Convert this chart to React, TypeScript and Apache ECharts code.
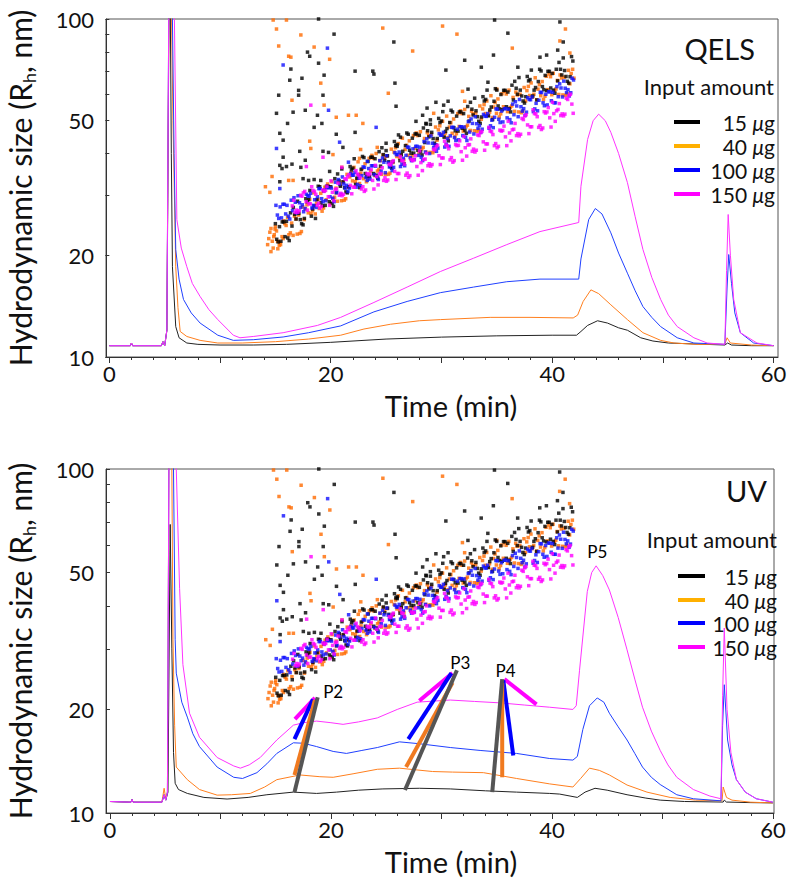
import React, { useEffect, useRef } from "react";
import * as echarts from "echarts";

// ---------- axes ----------
const TIME_LABELS = [0, 20, 40, 60];
const TIME_MAJOR_TICKS = [0, 10, 20, 30, 40, 50, 60];
const TIME_MINOR_TICKS = [0, 2, 4, 6, 8, 10, 12, 14, 16, 18, 20, 22, 24, 26, 28, 30, 32, 34, 36, 38, 40, 42, 44, 46, 48, 50, 52, 54, 56, 58, 60];
const SIZE_LABELS = [10, 20, 50, 100];
const SIZE_TICKS = [10, 20, 30, 40, 50, 60, 70, 80, 90, 100];
const AMOUNTS = ["15", "40", "100", "150"];
const PANEL_TITLES = ["QELS", "UV"];

// ---------- QELS (top) traces [time, Rh] ----------
const qels15 = [[0,10.8],[1.9,10.8],[2.0,11.0],[2.1,10.8],[4.7,10.8],[4.85,11.1],[5.0,10.8],[5.2,12],[5.45,200],[5.6,40],[5.7,18.5],[6.0,12.3],[6.3,11.4],[7,11.0],[8,10.9],[10,10.85],[13,10.85],[16,10.9],[20,11.05],[25,11.3],[30,11.45],[35,11.55],[40,11.6],[42.2,11.6],[42.6,11.9],[43.2,12.4],[44.1,12.8],[45,12.6],[46,12.2],[46.8,12.0],[48,11.4],[49.1,11.15],[50.5,11.0],[52.8,10.93],[55.6,10.85],[55.85,11.0],[56.2,10.85],[58,10.8],[60,10.8]];
const qels40 = [[0,10.8],[1.9,10.8],[2.0,11.0],[2.1,10.8],[4.7,10.8],[4.85,11.1],[5.0,10.8],[5.2,12],[5.45,250],[5.75,50],[6.0,18.5],[6.2,14],[6.4,11.9],[7.0,11.5],[8.2,11.2],[9.8,11.0],[12,11.0],[15,11.1],[18,11.3],[20.9,11.6],[23,12.1],[25.4,12.5],[28,12.8],[29.9,12.9],[34.4,13.1],[38,13.1],[41.9,13.05],[42.3,13.3],[42.8,14.6],[43.5,15.8],[44.2,15.4],[45.3,14.27],[46.8,12.9],[48.2,11.8],[49.8,11.2],[51,11.0],[53,10.9],[55.6,10.9],[55.8,11.4],[56.1,11.0],[58,10.85],[60,10.8]];
const qels100 = [[0,10.8],[1.9,10.8],[2.0,11.0],[2.1,10.8],[4.7,10.8],[4.85,11.1],[5.0,10.8],[5.2,12],[5.45,300],[5.7,100],[5.85,40],[6.0,20.8],[6.3,17],[6.7,14.8],[7.4,13.5],[8.2,12.6],[9.8,11.6],[11.2,11.2],[13,11.25],[15.7,11.46],[18,11.8],[20.9,12.36],[23.9,13.6],[26.9,14.6],[29.9,15.5],[32.9,16.1],[35.9,16.7],[38.9,17.0],[42.4,17.0],[42.6,19.5],[43.3,25.5],[43.9,27.5],[44.5,26.5],[45.3,23.3],[46,20.3],[46.8,17.7],[47.5,15.7],[48.2,14.1],[49,13.1],[49.8,12.3],[51.3,11.4],[52.8,11.0],[55.6,10.9],[55.8,16],[55.95,20.1],[56.2,16.5],[56.5,13.5],[57,11.8],[58.2,11.0],[60,10.8]];
const qels150 = [[0,10.8],[1.9,10.8],[2.0,11.0],[2.1,10.8],[4.7,10.8],[4.85,11.1],[5.0,10.8],[5.2,12],[5.45,300],[5.85,120],[6.1,25.5],[6.5,21],[7.0,18.5],[7.5,16.5],[8.2,15.1],[9,13.8],[9.8,12.9],[11.2,11.6],[11.8,11.4],[13,11.5],[15.7,11.8],[18.8,12.4],[20.9,13.1],[23.9,14.5],[26.9,16.1],[29.9,17.9],[32.9,19.6],[35.9,21.5],[38.9,23.5],[42.4,25.0],[42.6,32],[43.2,44],[43.7,50],[44.2,52.3],[44.8,50],[45.3,46.2],[46,40],[46.8,32.8],[47.5,26],[48.2,20.8],[49,17.2],[49.8,14.8],[50.5,13.3],[51.3,12.3],[52.8,11.4],[54,11.0],[55.6,10.9],[55.75,18],[55.9,26.4],[56.1,20],[56.4,14.8],[57,11.8],[58.5,11.0],[60,10.8]];

// ---------- UV (bottom) traces ----------
const uv15 = [[0,10.8],[1.9,10.75],[2.0,10.95],[2.1,10.75],[4.7,10.75],[4.9,11.3],[5.05,10.9],[5.25,11.5],[5.45,69],[5.6,30],[5.75,15],[5.9,12.2],[6.2,11.7],[7,11.4],[8.5,11.1],[10.6,10.98],[12.5,11.1],[14.2,11.3],[16.6,11.5],[18.7,11.4],[20.5,11.5],[22.5,11.65],[24.7,11.75],[28,11.8],[30.8,11.75],[34,11.6],[36.8,11.5],[39.8,11.4],[40.7,11.35],[42.3,11.1],[43,11.5],[43.9,11.8],[45,11.65],[46.8,11.3],[48.5,11.05],[49.8,10.9],[52,10.8],[55.5,10.76],[55.6,10.9],[55.8,10.76],[58,10.72],[60,10.7]];
const uv40 = [[0,10.8],[1.9,10.75],[2.0,10.95],[2.1,10.75],[4.7,10.75],[4.9,11.8],[5.05,11.0],[5.2,11.5],[5.4,300],[5.6,100],[5.7,32],[5.85,18],[6.0,13.6],[7.0,12.5],[8.1,11.7],[9.7,11.27],[11,11.3],[12.7,11.4],[14,11.9],[15.1,12.5],[17.2,12.9],[19,12.75],[20.2,12.7],[22,13.0],[24.2,13.4],[26.2,13.5],[29.2,13.2],[31,13.15],[33.8,13.1],[36.8,12.6],[39.8,12.15],[41.9,11.9],[42.6,12.6],[43.4,13.5],[44.3,13.3],[45.2,12.9],[46.8,12.06],[48.6,11.5],[50.7,11.1],[53,10.9],[55.4,10.85],[55.5,11.9],[55.8,11.1],[56.3,10.9],[58,10.75],[60,10.7]];
const uv100 = [[0,10.8],[1.9,10.75],[2.0,10.95],[2.1,10.75],[4.7,10.75],[4.9,11.3],[5.05,10.9],[5.2,11.5],[5.4,300],[5.75,100],[5.9,32],[6.0,25.5],[6.5,21],[7,19],[7.5,17],[8.1,15.6],[9.7,13.6],[11.2,12.7],[12,12.6],[13.3,13.1],[14.2,13.9],[15.1,14.9],[16.6,16.0],[17.5,15.95],[18.7,15.6],[20.2,15.1],[21.4,14.9],[22.8,15.2],[24.2,15.5],[26.2,16.1],[28,15.9],[30.8,15.5],[33.5,15.2],[36.8,14.9],[39.8,14.4],[41.9,14.25],[42.3,14.6],[42.8,17.5],[43.4,20.5],[44.1,21.6],[44.7,21.0],[45.2,19.5],[46,17.8],[46.8,16.3],[47.5,14.9],[48.2,13.6],[49,12.7],[49.8,12.1],[51.3,11.3],[52.8,11.0],[55.3,10.85],[55.45,18],[55.6,23.6],[55.9,16.3],[56.3,13.8],[56.7,12.5],[57.5,11.5],[58.5,11.0],[60,10.75]];
const uv150 = [[0,10.8],[1.9,10.75],[2.0,10.95],[2.1,10.75],[4.7,10.75],[4.9,11.3],[5.05,10.9],[5.2,11.5],[5.4,300],[5.9,200],[6.0,100],[6.3,45],[6.6,27],[7.2,19.5],[8.1,16.6],[9.7,14.5],[11.2,13.7],[11.8,13.5],[12.6,13.8],[13.6,14.5],[15.1,16.3],[16.6,18.0],[17.5,18.3],[18.7,18.5],[20,18.3],[21.1,18.1],[22.5,18.4],[24.2,18.9],[26,20],[27.8,21],[30.8,21.3],[33,21.1],[35.3,20.9],[37.5,20.6],[39.8,20.3],[41.9,20.0],[42.2,20.5],[42.5,26],[43.2,44],[43.6,50],[44.0,52.3],[44.6,49],[45.2,44.5],[46,37],[46.8,29.8],[47.5,24.5],[48.2,20.3],[49,17.3],[49.8,15.2],[50.5,13.8],[51.3,12.7],[52.8,11.7],[54.3,11.2],[55.3,11.0],[55.45,22],[55.6,34.5],[55.85,20],[56.2,15],[56.7,12.5],[57.5,11.5],[58.5,11.0],[60,10.75]];

// ---------- MALS scatter (same in both panels) ----------
const dots15 = [[15.0,24.8],[15.25,21.9],[15.5,22.0],[15.75,25.1],[16.0,25.2],[16.25,22.1],[16.5,24.4],[16.75,26.4],[17.0,28.9],[17.25,25.5],[17.5,24.6],[17.75,29.4],[18.0,29.2],[18.25,26.1],[18.5,28.0],[18.75,29.2],[19.0,31.9],[19.25,28.0],[19.5,28.1],[19.75,32.0],[20.0,31.9],[20.25,27.9],[20.5,30.6],[20.75,33.2],[21.0,36.0],[21.25,31.7],[21.5,30.6],[21.75,36.6],[22.0,36.2],[22.25,32.4],[22.5,34.5],[22.75,35.9],[23.0,38.9],[23.25,34.2],[23.5,34.2],[23.75,39.0],[24.0,38.6],[24.25,33.8],[24.5,36.7],[24.75,39.7],[25.0,42.9],[25.25,37.8],[25.5,36.2],[25.75,43.4],[26.0,42.5],[26.25,38.1],[26.5,40.6],[26.75,42.2],[27.0,45.6],[27.25,40.1],[27.5,40.1],[27.75,45.7],[28.0,45.3],[28.25,39.6],[28.5,43.1],[28.75,46.7],[29.0,50.3],[29.25,44.3],[29.5,42.4],[29.75,50.8],[30.0,49.9],[30.25,44.7],[30.5,47.4],[30.75,49.4],[31.0,53.1],[31.25,46.7],[31.5,46.6],[31.75,53.1],[32.0,52.5],[32.25,45.9],[32.5,49.9],[32.75,54.1],[33.0,58.3],[33.25,51.4],[33.5,49.1],[33.75,58.9],[34.0,57.8],[34.25,51.7],[34.5,54.9],[34.75,57.1],[35.0,61.6],[35.25,54.2],[35.5,53.9],[35.75,61.5],[36.0,60.8],[36.25,53.1],[36.5,57.6],[36.75,62.4],[37.0,67.1],[37.25,59.2],[37.5,56.4],[37.75,67.6],[38.0,66.2],[38.25,59.2],[38.5,62.7],[38.75,65.3],[39.0,70.2],[39.25,61.8],[39.5,61.4],[39.75,70.0],[40.0,69.0],[40.25,60.3],[40.5,65.6],[40.75,71.0],[41.0,76.7],[41.25,67.6],[41.5,64.6],[41.75,77.4],
  [18.9,100],[20.3,90.2],[25.7,85.5],[17.9,79.8],[18.1,77.6],[18.9,74.0],[16.4,71.1],[22.2,70.1],[23.8,70.1],[23.9,68.7],[17.4,66.8],[19.4,68.2],[16.3,65.9],[25.8,64.6],[17.1,61.5],[17.1,59.5],[15.3,59.5],[19.3,59.5],[17.7,53.7],[25.9,55.2],[15.1,52.6],[16.6,53.0],[18.8,51.9],[18.5,47.8],[19.2,49.1],[16.1,49.1],[22.2,46.2],[15.4,45.9],[15.7,43.8],[20.5,45.6],[17.2,40.6],[15.7,39.0],[19.3,40.6],[19.8,40.3],[21.1,41.7],[17.7,38.2],[15.4,36.9],[16.0,36.6],[16.5,37.2],[17.3,36.4],[15.6,36.1],[19.9,35.4],[15.4,33.0],[17.5,33.7],[18.0,33.3],[18.5,33.5],[19.1,33.3],[27.7,49.8],[28.3,51.9],[28.6,49.1],[25.0,40.8],[26.0,42.0],[26.3,44.7],
  [34.8,99.3],[40.7,98.0],[36.0,90.8],[41.0,85.5],[40.5,80.9],[34.7,78.2],[38.9,77.1],[39.5,78.2],[32.1,75.5],[33.6,72.0],[36.9,72.0],[30.4,70.6],[34.2,65.0],[32.4,62.0],[30.6,57.1],[29.5,56.7],[30.2,55.6],[28.7,54.5],[29.0,48.8]];
const dots15More = [[15.12,22.3],[15.37,24.3],[15.62,25.1],[15.87,22.7],[16.12,22.5],[16.37,26.7],[16.62,27.7],[16.87,25.6],[17.12,26.6],[17.37,24.8],[17.62,25.7],[17.87,28.8],[18.12,31.1],[18.37,27.4],[18.62,25.7],[18.87,32.0],[19.12,28.6],[19.37,31.0],[19.62,32.0],[19.87,28.8],[20.12,28.5],[20.37,33.7],[20.62,34.8],[20.87,32.0],[21.12,33.0],[21.37,30.8],[21.62,31.9],[21.87,35.8],[22.12,38.6],[22.37,33.8],[22.62,31.7],[22.87,39.2],[23.12,34.9],[23.37,37.9],[23.62,39.0],[23.87,34.9],[24.12,34.5],[24.37,40.5],[24.62,41.6],[24.87,38.2],[25.12,39.4],[25.37,36.6],[25.62,37.8],[25.87,42.2],[26.12,45.4],[26.37,39.7],[26.62,37.3],[26.87,46.0],[27.12,40.9],[27.37,44.4],[27.62,45.7],[27.87,40.9],[28.12,40.5],[28.37,47.6],[28.62,48.9],[28.87,44.8],[29.12,46.2],[29.37,42.9],[29.62,44.3],[29.87,49.4],[30.12,53.2],[30.37,46.5],[30.62,43.6],[30.87,53.7],[31.12,47.7],[31.37,51.6],[31.62,53.1],[31.87,47.5],[32.12,46.9],[32.37,55.1],[32.62,56.7],[32.87,52.0],[33.12,53.5],[33.37,49.8],[33.62,51.3],[33.87,57.2],[34.12,61.6],[34.37,53.8],[34.62,50.4],[34.87,62.2],[35.12,55.3],[35.37,59.8],[35.62,61.5],[35.87,55.0],[36.12,54.3],[36.37,63.7],[36.62,65.4],[36.87,59.9],[37.12,61.6],[37.37,57.2],[37.62,58.9],[37.87,65.6],[38.12,70.6],[38.37,61.6],[38.62,57.6],[38.87,71.0],[39.12,63.1],[39.37,68.1],[39.62,70.0],[39.87,62.5],[40.12,61.6],[40.37,71.0],[40.62,74.4],[40.87,68.3],[41.12,70.4],[41.37,65.4],[41.62,67.5],[41.87,75.1]];
const dots40 = [[14.6,20.5],[14.85,22.7],[15.1,23.6],[15.35,21.4],[15.6,22.7],[15.85,24.8],[16.1,25.9],[16.35,23.3],[16.6,22.9],[16.85,25.6],[17.1,26.3],[17.35,23.5],[17.6,25.5],[17.85,28.2],[18.1,29.3],[18.35,27.1],[18.6,26.5],[18.85,29.3],[19.1,30.5],[19.35,27.6],[19.6,29.2],[19.85,31.9],[20.1,33.0],[20.35,29.7],[20.6,28.9],[20.85,32.3],[21.1,32.9],[21.35,29.4],[21.6,31.8],[21.85,35.1],[22.1,36.4],[22.35,33.7],[22.6,32.6],[22.85,36.1],[23.1,37.3],[23.35,33.7],[23.6,35.5],[23.85,38.7],[24.1,40.0],[24.35,35.9],[24.6,34.7],[24.85,38.8],[25.1,39.3],[25.35,35.0],[25.6,37.6],[25.85,41.6],[26.1,42.8],[26.35,39.6],[26.6,38.3],[26.85,42.3],[27.1,43.6],[27.35,39.4],[27.6,41.4],[27.85,45.2],[28.1,46.4],[28.35,41.7],[28.6,40.4],[28.85,45.2],[29.1,45.6],[29.35,40.7],[29.6,43.8],[29.85,48.3],[30.1,49.8],[30.35,46.0],[30.6,44.6],[30.85,49.3],[31.1,50.6],[31.35,45.8],[31.6,48.1],[31.85,52.5],[32.1,54.0],[32.35,48.5],[32.6,46.8],[32.85,52.4],[33.1,52.7],[33.35,47.0],[33.6,50.5],[33.85,55.8],[34.1,57.2],[34.35,53.0],[34.6,51.1],[34.85,56.6],[35.1,58.0],[35.35,52.4],[35.6,55.0],[35.85,60.0],[36.1,61.6],[36.35,55.3],[36.6,53.3],[36.85,59.6],[37.1,59.9],[37.35,53.4],[37.6,57.2],[37.85,63.2],[38.1,64.7],[38.35,59.9],[38.6,57.7],[38.85,63.9],[39.1,65.3],[39.35,59.1],[39.6,61.8],[39.85,67.5],[40.1,69.1],[40.35,62.1],[40.6,59.8],[40.85,66.9],[41.1,67.3],[41.35,60.1],[41.6,64.3],[41.85,71.0],
  [14.3,21.5],[14.5,23.4],[14.8,21.0],[15.0,24.3],[15.2,22.0],[14.4,22.4],[14.9,23.0],[15.4,21.8],[14.6,24.0],[15.7,22.4],
  [14.8,99.3],[16.0,99.3],[15.1,93.4],[17.3,89.7],[15.3,83.2],[18.5,82.6],[16.2,77.6],[16.4,77.1],[19.9,76.0],[24.7,94.0],[27.4,80.4],[19.1,64.6],[25.2,60.3],[16.5,57.5],[19.4,55.6],[21.6,51.9],[22.3,51.9],[20.5,51.2],[22.9,49.1],[18.1,43.5],[18.2,41.4],[22.7,41.1],[20.2,39.7],[24.2,41.7],[14.7,34.2],[14.1,31.9],[16.2,33.3],[16.6,33.3],[14.5,30.7],[21.0,36.4],[22.6,38.7],
  [30.1,95.3],[31.4,90.2],[41.2,93.4],[36.4,82.0],[40.7,86.1],[41.6,79.3],[31.9,61.1],[35.0,62.0],[32.1,57.1],[29.3,52.6]];
const dots40More = [[14.72,22.0],[14.97,23.9],[15.22,20.9],[15.47,21.5],[15.72,25.3],[15.97,24.5],[16.22,23.0],[16.47,24.9],[16.72,26.1],[16.97,23.1],[17.22,23.2],[17.47,27.8],[17.72,27.4],[17.97,26.7],[18.22,26.6],[18.47,30.6],[18.72,28.5],[18.97,27.5],[19.22,27.0],[19.47,31.8],[19.72,32.5],[19.97,28.4],[20.22,29.4],[20.47,31.6],[20.72,33.0],[20.97,29.0],[21.22,29.1],[21.47,34.7],[21.72,34.1],[21.97,33.2],[22.22,33.0],[22.47,37.8],[22.72,35.0],[22.97,33.7],[23.22,33.0],[23.47,38.7],[23.72,39.5],[23.97,34.4],[24.22,35.5],[24.47,38.1],[24.72,39.6],[24.97,34.7],[25.22,34.7],[25.47,41.2],[25.72,40.4],[25.97,39.2],[26.22,38.8],[26.47,44.4],[26.72,41.1],[26.97,39.5],[27.22,38.6],[27.47,45.2],[27.72,46.0],[27.97,40.0],[28.22,41.3],[28.47,44.3],[28.72,46.1],[28.97,40.3],[29.22,40.2],[29.47,47.9],[29.72,47.0],[29.97,45.6],[30.22,45.1],[30.47,51.6],[30.72,47.9],[30.97,45.9],[31.22,44.8],[31.47,52.5],[31.72,53.5],[31.97,46.6],[32.22,48.0],[32.47,51.5],[32.72,53.4],[32.97,46.7],[33.22,46.5],[33.47,55.3],[33.72,54.2],[33.97,52.5],[34.22,51.9],[34.47,59.3],[34.72,54.9],[34.97,52.6],[35.22,51.3],[35.47,60.1],[35.72,61.1],[35.97,53.2],[36.22,54.7],[36.47,58.6],[36.72,60.8],[36.97,53.1],[37.22,52.8],[37.47,62.7],[37.72,61.4],[37.97,59.4],[38.22,58.7],[38.47,67.0],[38.72,62.0],[38.97,59.3],[39.22,57.8],[39.47,67.7],[39.72,68.8],[39.97,59.7],[40.22,61.4],[40.47,65.8],[40.72,68.3],[40.97,59.6],[41.22,59.4],[41.47,70.5],[41.72,69.0],[41.97,66.8]];
const dots100 = [[15.05,28.1],[15.3,25.7],[15.55,25.8],[15.8,28.3],[16.05,28.1],[16.3,25.6],[16.55,27.1],[16.8,28.7],[17.05,30.0],[17.3,27.7],[17.55,26.9],[17.8,30.3],[18.05,29.9],[18.3,27.6],[18.55,29.2],[18.8,29.8],[19.05,31.5],[19.3,28.8],[19.55,29.0],[19.8,31.7],[20.05,31.6],[20.3,28.8],[20.55,30.7],[20.8,32.5],[21.05,34.1],[21.3,31.6],[21.55,30.9],[21.8,34.9],[22.05,34.5],[22.3,31.8],[22.55,33.8],[22.8,34.4],[23.05,36.4],[23.3,33.3],[23.55,33.6],[23.8,36.8],[24.05,36.7],[24.3,33.5],[24.55,35.5],[24.8,37.7],[25.05,39.4],[25.3,36.5],[25.55,35.6],[25.8,40.2],[26.05,39.7],[26.3,36.6],[26.55,38.7],[26.8,39.5],[27.05,41.7],[27.3,38.1],[27.55,38.4],[27.8,42.0],[28.05,41.8],[28.3,38.1],[28.55,40.4],[28.8,43.0],[29.05,45.1],[29.3,41.7],[29.55,40.6],[29.8,45.8],[30.05,45.3],[30.3,41.8],[30.55,44.3],[30.8,45.1],[31.05,47.8],[31.3,43.7],[31.55,43.9],[31.8,48.0],[32.05,47.9],[32.3,43.7],[32.55,46.3],[32.8,49.1],[33.05,51.4],[33.3,47.5],[33.55,46.2],[33.8,52.2],[34.05,51.5],[34.3,47.5],[34.55,50.2],[34.8,51.2],[35.05,54.1],[35.3,49.4],[35.55,49.6],[35.8,54.3],[36.05,54.1],[36.3,49.3],[36.55,52.1],[36.8,55.3],[37.05,57.8],[37.3,53.4],[37.55,51.9],[37.8,58.5],[38.05,57.7],[38.3,53.2],[38.55,56.3],[38.8,57.5],[39.05,60.6],[39.3,55.4],[39.55,55.7],[39.8,60.9],[40.05,60.7],[40.3,56.5],[40.55,58.9],[40.8,62.5],[41.05,65.5],[41.3,60.6],[41.55,59.2],[41.8,66.8],
  [19.7,82.0],[15.7,73.1],[19.8,53.7],[24.1,47.8],[20.8,43.2],[15.1,41.4],[21.6,37.7],[23.3,37.9],[15.4,31.5]];
const dots100More = [[15.18,26.3],[15.43,27.8],[15.68,28.3],[15.93,26.5],[16.18,26.1],[16.43,29.1],[16.68,29.6],[16.93,26.7],[17.18,28.6],[17.43,28.2],[17.68,27.5],[17.93,30.0],[18.18,30.5],[18.43,28.1],[18.68,27.7],[18.93,31.5],[19.18,29.4],[19.43,31.2],[19.68,31.7],[19.93,29.8],[20.18,29.5],[20.43,32.9],[20.68,33.5],[20.93,30.3],[21.18,32.5],[21.43,32.2],[21.68,31.6],[21.93,34.5],[22.18,35.2],[22.43,32.4],[22.68,32.1],[22.93,36.5],[23.18,34.0],[23.43,36.1],[23.68,36.8],[23.93,34.6],[24.18,34.2],[24.43,38.1],[24.68,38.8],[24.93,35.1],[25.18,37.6],[25.43,37.2],[25.68,36.4],[25.93,39.7],[26.18,40.4],[26.43,37.2],[26.68,36.8],[26.93,41.8],[27.18,38.9],[27.43,41.3],[27.68,42.0],[27.93,39.5],[28.18,39.0],[28.43,43.4],[28.68,44.2],[28.93,40.0],[29.18,42.9],[29.43,42.4],[29.68,41.5],[29.93,45.3],[30.18,46.2],[30.43,42.6],[30.68,42.0],[30.93,47.8],[31.18,44.6],[31.43,47.2],[31.68,48.0],[31.93,45.2],[32.18,44.7],[32.43,49.7],[32.68,50.6],[32.93,45.7],[33.18,49.0],[33.43,48.4],[33.68,47.2],[33.93,51.6],[34.18,52.5],[34.43,48.3],[34.68,47.7],[34.93,54.2],[35.18,50.5],[35.43,53.4],[35.68,54.3],[35.93,51.0],[36.18,50.4],[36.43,56.0],[36.68,56.9],[36.93,51.4],[37.18,55.0],[37.43,54.3],[37.68,53.0],[37.93,57.8],[38.18,58.8],[38.43,54.2],[38.68,53.5],[38.93,60.7],[39.18,56.5],[39.43,59.9],[39.68,60.9],[39.93,57.3],[40.18,56.5],[40.43,63.1],[40.68,64.3],[40.93,58.8],[41.18,62.4],[41.43,61.8],[41.68,60.5],[41.93,66.0]];
const dots150 = [[16.65,29.1],[16.9,27.2],[17.15,27.1],[17.4,29.9],[17.65,30.9],[17.9,27.2],[18.15,28.4],[18.4,31.1],[18.65,30.3],[18.9,28.5],[19.15,27.9],[19.4,30.9],[19.65,32.0],[19.9,28.1],[20.15,30.7],[20.4,31.3],[20.65,32.7],[20.9,30.5],[21.15,30.3],[21.4,33.5],[21.65,34.6],[21.9,30.4],[22.15,31.8],[22.4,34.8],[22.65,33.9],[22.9,31.9],[23.15,31.2],[23.4,34.6],[23.65,35.8],[23.9,31.4],[24.15,34.2],[24.4,34.8],[24.65,36.3],[24.9,33.9],[25.15,33.4],[25.4,37.0],[25.65,38.1],[25.9,33.5],[26.15,34.9],[26.4,38.2],[26.65,37.2],[26.9,35.0],[27.15,34.4],[27.4,38.1],[27.65,39.4],[27.9,34.5],[28.15,37.6],[28.4,38.4],[28.65,40.0],[28.9,37.3],[29.15,37.1],[29.4,41.0],[29.65,42.3],[29.9,37.1],[30.15,38.8],[30.4,42.4],[30.65,41.3],[30.9,38.9],[31.15,38.1],[31.4,42.2],[31.65,43.6],[31.9,38.2],[32.15,41.6],[32.4,42.4],[32.65,44.2],[32.9,41.2],[33.15,40.9],[33.4,45.2],[33.65,46.5],[33.9,40.9],[34.15,42.7],[34.4,46.6],[34.65,45.5],[34.9,42.8],[35.15,42.0],[35.4,46.6],[35.65,48.2],[35.9,42.2],[36.15,46.0],[36.4,47.0],[36.65,49.1],[36.9,45.8],[37.15,45.6],[37.4,50.4],[37.65,52.1],[37.9,45.8],[38.15,48.0],[38.4,52.5],[38.65,51.4],[38.9,48.4],[39.15,47.6],[39.4,52.7],[39.65,54.7],[39.9,47.9],[40.15,52.5],[40.4,53.5],[40.65,56.2],[40.9,52.4],[41.15,52.3],[41.4,57.8],[41.65,59.9],[41.9,52.6],
  [18.2,55.6],[19.3,39.0],[17.8,36.6],[21.0,36.4]];
const dots150More = [[16.53,28.0],[16.78,26.8],[17.03,26.8],[17.28,30.1],[17.53,30.6],[17.78,28.8],[18.03,28.4],[18.28,31.9],[18.53,30.9],[18.78,28.1],[19.03,27.6],[19.28,31.2],[19.53,31.1],[19.78,29.8],[20.03,33.2],[20.28,29.0],[20.53,31.4],[20.78,30.1],[21.03,30.0],[21.28,33.7],[21.53,34.2],[21.78,32.2],[22.03,31.8],[22.28,35.6],[22.53,34.5],[22.78,31.4],[23.03,30.9],[23.28,34.9],[23.53,34.8],[23.78,33.3],[24.03,36.9],[24.28,32.3],[24.53,34.9],[24.78,33.3],[25.03,33.1],[25.28,37.2],[25.53,37.7],[25.78,35.4],[26.03,34.9],[26.28,39.2],[26.53,38.0],[26.78,34.5],[27.03,34.0],[27.28,38.4],[27.53,38.3],[27.78,36.6],[28.03,40.7],[28.28,35.6],[28.53,38.5],[28.78,36.8],[29.03,36.7],[29.28,41.2],[29.53,41.9],[29.78,39.4],[30.03,38.8],[30.28,43.5],[30.53,42.1],[30.78,38.3],[31.03,37.7],[31.28,42.5],[31.53,42.3],[31.78,40.5],[32.03,44.9],[32.28,39.3],[32.53,42.5],[32.78,40.6],[33.03,40.4],[33.28,45.4],[33.53,46.1],[33.78,43.3],[34.03,42.7],[34.28,47.8],[34.53,46.4],[34.78,42.2],[35.03,41.6],[35.28,46.9],[35.53,46.8],[35.78,44.8],[36.03,49.8],[36.28,43.6],[36.53,47.2],[36.78,45.2],[37.03,45.1],[37.28,50.8],[37.53,51.6],[37.78,48.6],[38.03,48.0],[38.28,53.9],[38.53,52.4],[38.78,47.8],[39.03,47.1],[39.28,53.2],[39.53,53.1],[39.78,51.0],[40.03,56.7],[40.28,49.8],[40.53,54.0],[40.78,51.8],[41.03,51.7],[41.28,58.3],[41.53,59.4],[41.78,56.0]];

// ---------- UV peak annotations ----------
const PEAK_LABELS = [[20.2, 22.6, "P2"], [31.7, 27.3, "P3"], [35.8, 26.0, "P4"], [44.1, 57.7, "P5"]];
const pointers15 = [[[16.7, 11.5], [18.8, 21.7]], [[26.7, 11.66], [31.4, 26.0]], [[34.6, 11.5], [35.5, 24.5]]];
const pointers40 = [[[16.7, 12.9], [18.55, 21.3]], [[26.8, 13.6], [31.0, 23.9]], [[35.5, 12.7], [35.5, 23.9]]];
const pointers100 = [[[16.7, 16.4], [18.37, 21.4]], [[27.0, 16.4], [30.9, 25.5]], [[36.5, 14.7], [35.6, 24.3]]];
const pointers150 = [[[16.74, 18.75], [18.55, 21.6]], [[28.0, 21.2], [31.0, 25.5]], [[38.6, 20.7], [35.7, 24.5]]];

const FONT = 'Lato, "Open Sans", sans-serif';
const LINE_COLORS = ["#222222", "#FF7F1E", "#2040FF", "#FF33FF"];
const DOT_COLORS = ["#000000", "#FF6A00", "#1010FF", "#FF00FF"];
const LEGEND_COLORS = ["#000000", "#FFB000", "#0000FF", "#FF00FF"];
const POINTER_COLORS = ["#555555", "#F07A20", "#0000FF", "#FF00FF"];

const PANELS = [
  { grid: { left: 106, top: 19, width: 672, height: 338 }, xMin: -0.3, xMax: 60.4, curves: [qels15, qels40, qels100, qels150] },
  { grid: { left: 106, top: 469, width: 668, height: 344 }, xMin: -0.36, xMax: 60.1, curves: [uv15, uv40, uv100, uv150] },
];

function buildOption() {
  const grid: any[] = [];
  const xAxis: any[] = [];
  const yAxis: any[] = [];
  const series: any[] = [];
  const graphic: any[] = [];
  // drawing order: orange, black, blue, magenta
  const dots = [dots40.concat(dots40More), dots15.concat(dots15More), dots100.concat(dots100More), dots150.concat(dots150More)];
  const dotColorIdx = [1, 0, 2, 3];

  PANELS.forEach((p, pi) => {
    grid.push({ ...p.grid, show: true, borderColor: "#555", borderWidth: 1, backgroundColor: "transparent", containLabel: false, outerBoundsMode: "none" });
    const axisColor = "#333";
    xAxis.push({
      type: "value", gridIndex: pi, position: "bottom", min: p.xMin, max: p.xMax,
      axisLine: { show: true, onZero: false, lineStyle: { color: axisColor, width: 1 } },
      axisTick: { show: true, customValues: TIME_MAJOR_TICKS, length: 6, lineStyle: { color: axisColor } },
      axisLabel: { show: true, customValues: TIME_LABELS, fontSize: 22, color: "#111", fontFamily: FONT, margin: 5 },
      splitLine: { show: false },
    });
    xAxis.push({
      type: "value", gridIndex: pi, position: "bottom", offset: 0, min: p.xMin, max: p.xMax,
      axisLine: { show: false },
      axisTick: { show: true, customValues: TIME_MINOR_TICKS, length: 3, lineStyle: { color: axisColor } },
      axisLabel: { show: false },
      splitLine: { show: false },
    });
    yAxis.push({
      type: "log", logBase: 10, gridIndex: pi, position: "left", min: 10, max: 100,
      axisLine: { show: true, onZero: false, lineStyle: { color: axisColor, width: 1 } },
      axisTick: { show: false }, axisLabel: { show: false }, splitLine: { show: false },
    });
    yAxis.push({
      type: "value", gridIndex: pi, position: "left", offset: 0, min: 1, max: 2,
      axisLine: { show: false },
      axisTick: { show: true, customValues: SIZE_TICKS.map((v) => Math.log10(v)), length: 4, lineStyle: { color: axisColor } },
      axisLabel: {
        show: true, customValues: SIZE_LABELS.map((v) => Math.log10(v)),
        formatter: (v: number) => String(Math.round(Math.pow(10, v))),
        fontSize: 22, color: "#111", fontFamily: FONT, margin: 12,
      },
      splitLine: { show: false },
    });
    const xi = pi * 2;
    const yi = pi * 2;
    dots.forEach((d, k) => {
      series.push({
        type: "scatter", name: `dots-${pi}-${k}`, xAxisIndex: xi, yAxisIndex: yi, data: d,
        symbol: "rect", symbolSize: 3.5, itemStyle: { color: DOT_COLORS[dotColorIdx[k]] }, silent: true, z: 2, clip: true,
      });
    });
    p.curves.forEach((c, k) => {
      series.push({
        type: "line", name: `${AMOUNTS[k]} µg`, xAxisIndex: xi, yAxisIndex: yi, data: c,
        showSymbol: false, symbol: "none", lineStyle: { width: 1, color: LINE_COLORS[k] }, itemStyle: { color: LINE_COLORS[k] },
        silent: true, z: 3, clip: true,
      });
    });
  });

  const pointerSets = [pointers150, pointers100, pointers40, pointers15];
  const pointerColorIdx = [3, 2, 1, 0];
  pointerSets.forEach((set, s) => {
    set.forEach((seg, j) => {
      series.push({
        type: "line", name: `pointer-${s}-${j}`, xAxisIndex: 2, yAxisIndex: 2, data: seg,
        showSymbol: false, symbol: "none", lineStyle: { width: 4, color: POINTER_COLORS[pointerColorIdx[s]] },
        silent: true, z: 4, clip: true,
      });
    });
  });
  series.push({
    type: "scatter", name: "peak-labels", xAxisIndex: 2, yAxisIndex: 2, data: PEAK_LABELS,
    symbolSize: 1, itemStyle: { color: "rgba(255,255,255,0)" }, silent: true, z: 6,
    label: { show: true, position: "inside", formatter: (q: any) => q.value[2], fontSize: 17, color: "#000", opacity: 1, textBorderWidth: 0, fontFamily: FONT },
  });

  const legendSpec = [
    { title: { x: 755, y: 48 }, input: { x: 774, y: 86 }, rows: [122, 146, 170, 194], lx: [674, 700], tx: 775 },
    { title: { x: 767, y: 490 }, input: { x: 777, y: 539 }, rows: [576, 600, 623, 647], lx: [678, 705], tx: 777 },
  ];
  legendSpec.forEach((L, pi) => {
    graphic.push({ type: "text", x: L.title.x, y: L.title.y, z: 10, style: { text: PANEL_TITLES[pi], fill: "#111", fontSize: 29, fontFamily: FONT, align: "right", verticalAlign: "middle" } });
    graphic.push({ type: "text", x: L.input.x, y: L.input.y, z: 10, style: { text: "Input amount", fill: "#111", fontSize: 22, fontFamily: FONT, align: "right", verticalAlign: "middle" } });
    AMOUNTS.forEach((a, k) => {
      graphic.push({ type: "line", z: 10, shape: { x1: L.lx[0], y1: L.rows[k], x2: L.lx[1], y2: L.rows[k] }, style: { stroke: LEGEND_COLORS[k], lineWidth: 4 } });
      graphic.push({
        type: "text", x: L.tx, y: L.rows[k], z: 10,
        style: {
          text: `{n|${a} }{u|μ}{n|g}`, align: "right", verticalAlign: "middle",
          rich: {
            n: { fontSize: 21, fontFamily: FONT, fill: "#111", lineHeight: 21 },
            u: { fontSize: 21, fontFamily: FONT, fontStyle: "italic", fill: "#111", lineHeight: 21 },
          },
        },
      });
    });
  });
  [188, 641].forEach((cy) => {
    graphic.push({
      type: "text", x: 20, y: cy, rotation: Math.PI / 2, z: 10,
      style: {
        text: "{a|Hydrodynamic size (R}{s|h}{a|, nm)}", align: "center", verticalAlign: "middle",
        rich: {
          a: { fontSize: 30, fontFamily: FONT, fill: "#111", lineHeight: 36 },
          s: { fontSize: 18, fontFamily: FONT, fill: "#111", lineHeight: 22, verticalAlign: "bottom" },
        },
      },
    });
  });
  [405, 861].forEach((cy) => {
    graphic.push({ type: "text", x: 451, y: cy, z: 10, style: { text: "Time (min)", fill: "#111", fontSize: 29, fontFamily: FONT, align: "center", verticalAlign: "middle" } });
  });

  return { animation: false, backgroundColor: "#fff", grid, xAxis, yAxis, series, graphic };
}

export default function App() {
  const ref = useRef<HTMLDivElement>(null);
  useEffect(() => {
    if (!ref.current) return;
    const chart = echarts.init(ref.current, null, { renderer: "svg" });
    chart.setOption(buildOption() as any);
    return () => chart.dispose();
  }, []);
  return <div ref={ref} style={{ position: "fixed", left: 0, top: 0, width: 800, height: 883, background: "#fff" }} />;
}
